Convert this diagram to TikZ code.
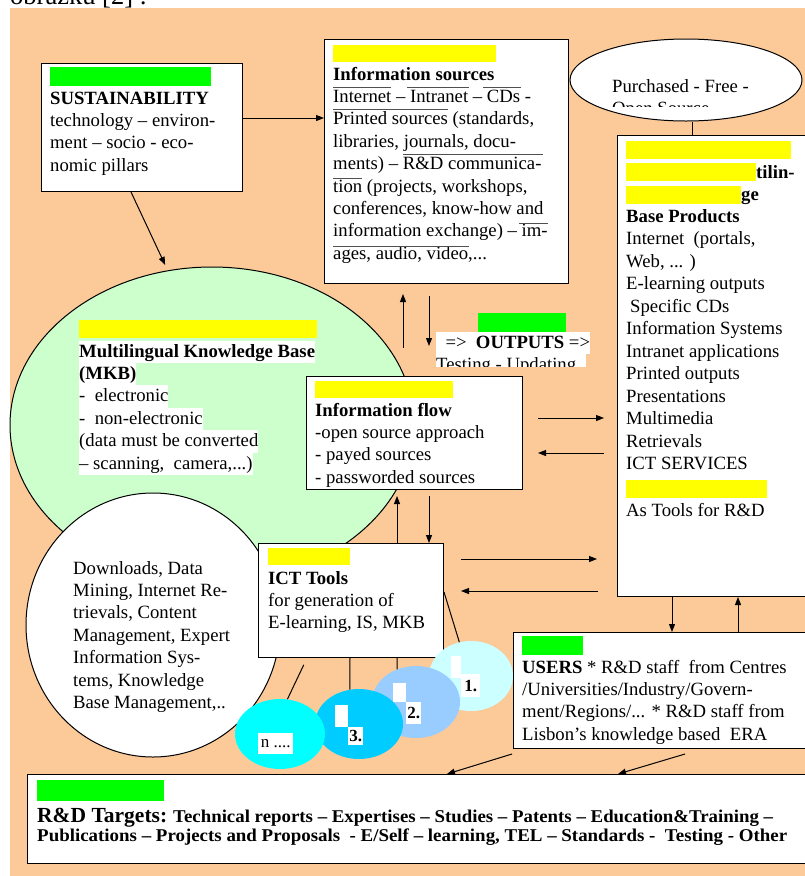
\documentclass[tikz,border=0pt]{standalone}
\usepackage{fontspec}
\usepackage{graphicx}
\setmainfont{Liberation Serif}
\usetikzlibrary{arrows.meta,shapes.geometric}
\definecolor{peach}{RGB}{252,202,153}
\definecolor{mkbgreen}{RGB}{204,255,204}
\definecolor{baryellow}{RGB}{255,255,0}
\definecolor{bargreen}{RGB}{0,255,0}
\definecolor{blobA}{RGB}{204,255,255}
\definecolor{blobB}{RGB}{153,204,255}
\definecolor{blobC}{RGB}{0,204,255}
\definecolor{blobN}{RGB}{0,255,255}
\definecolor{ovlgray}{RGB}{80,80,80}
\newcommand\hlw[1]{{\setlength\fboxsep{0pt}\colorbox{white}{\rule[-6pt]{0pt}{22.4pt}#1}}}
\tikzset{
  box/.style={draw, fill=white, line width=1pt, anchor=north west, inner sep=0pt},
  txt/.style={anchor=base west, inner sep=0pt, align=left, font=\fontsize{18.7}{22.4}\selectfont},
  blob/.style={ellipse, draw=none, fill=#1, inner sep=0pt},
  numbox/.style={fill=white, anchor=north west, inner sep=0pt, font=\fontsize{17}{17}\selectfont},
  arr/.style={-{Triangle[length=8pt,width=6pt]}, line width=1pt},
  ovl/.style={draw=ovlgray, line width=1pt},
}
\begin{document}
\begin{tikzpicture}[x=1pt,y=-1pt]
    \useasboundingbox (0,0) rectangle (805,876);
    \node[txt, font=\fontsize{26.5}{30}\selectfont] (caption) at (10,4) {obrázku [2] :};
    \fill [peach] (10,8) rectangle (805,876);

    % big ellipses
    \node[ellipse, draw, line width=1pt, fill=mkbgreen, inner sep=0pt, minimum width=404pt, minimum height=316pt] (mkb) at (212,425) {};
    \node[ellipse, draw, line width=1pt, fill=white, inner sep=0pt, minimum width=254pt, minimum height=264pt] (dl) at (153,625) {};
    \node[ellipse, draw, line width=1pt, fill=white, inner sep=0pt, minimum width=232pt, minimum height=82pt] (purch) at (686,80) {};

    % boxes
    \node[box, minimum width=201pt, minimum height=128pt] (sust) at (41,63) {};
    \node[box, minimum width=244pt, minimum height=244pt] (src) at (324,39) {};
    \node[box, minimum width=195pt, minimum height=461pt] (prod) at (617,135) {};
    \node[box, minimum width=216pt, minimum height=113pt] (flow) at (306,376) {};
    \node[box, minimum width=185pt, minimum height=114pt] (ict) at (258,543) {};
    \node[box, minimum width=299pt, minimum height=116pt] (users) at (513,632) {};
    \node[box, minimum width=785pt, minimum height=89pt] (targets) at (27,774) {};

    % colour bars
    \fill [bargreen] (50,67) rectangle (211,86);
    \fill [baryellow] (333,45) rectangle (496,62);
    \fill [baryellow] (626,141) rectangle (791,159);
    \fill [baryellow] (626,163) rectangle (756,181);
    \fill [baryellow] (626,186) rectangle (741,204);
    \fill [baryellow] (626,480) rectangle (767,498);
    \fill [baryellow] (79,320) rectangle (317,338);
    \fill [baryellow] (315,381) rectangle (453,398);
    \fill [bargreen] (478,313) rectangle (566,332);
    \fill [baryellow] (268,548) rectangle (350,565);
    \fill [bargreen] (522,636) rectangle (583,655);
    \fill [bargreen] (37,780) rectangle (164,801);

    % texts (base = last line)
    \node[txt] (sust-t) at (50,171.2) {\textbf{SUSTAINABILITY}\\technology – environ-\\ment – socio - eco-\\nomic pillars};
    \node[txt] (src-t) at (333,259.2) {\textbf{Information sources}\\Internet – Intranet – CDs -\\Printed sources (standards,\\libraries, journals, docu-\\ments) – R\&D communica-\\tion (projects, workshops,\\conferences, know-how and\\information exchange) – im-\\ages, audio, video,...};
    \draw [ovl] (333,87) -- (391,87);
    \draw [ovl] (407,87) -- (469,87);
    \draw [ovl] (483,87) -- (521,87);
    \draw [ovl] (333,109) -- (448,109);
    \draw [ovl] (403,154) -- (543,154);
    \draw [ovl] (333,178) -- (362,178);
    \draw [ovl] (519,223) -- (548,223);
    \draw [ovl] (333,246) -- (469,246);
    \begin{scope}
        \clip (600,60) rectangle (800,106);
        \node[txt] (purch-t) at (612,114.4) {Purchased - Free -\\Open Source};
    \end{scope}
    \node[txt] (prod-a) at (756,178) {\textbf{tilin-}};
    \node[txt] (prod-b) at (741,200) {\textbf{ge}};
    \node[txt, font=\fontsize{18.7}{22.5}\selectfont] (prod-t) at (626,469.5) {\textbf{Base Products}\\Internet\ \ (portals,\\Web, ... )\\E-learning outputs\\\hspace{4pt}Specific CDs\\Information Systems\\Intranet applications\\Printed outputs\\Presentations\\Multimedia\\Retrievals\\ICT SERVICES};
    \node[txt] (prod-c) at (626,516) {As Tools for R\&D};
    \node[txt] (mkb-t) at (79,469) {\hlw{\textbf{Multilingual Knowledge Base}}\\\hlw{\textbf{(MKB)}}\\\hlw{-\ \ electronic}\\\hlw{-\ \ non-electronic}\\\hlw{(data must be converted}\\\hlw{– scanning,\ \ camera,...)}};
    \node[txt] (flow-t) at (315,483.2) {\textbf{Information flow}\\-open source approach\\- payed sources\\- passworded sources};
    \node[txt] (out-t) at (436,348) {\hlw{\ \ =>\ \ \textbf{OUTPUTS} =>}};
    \begin{scope}
        \clip (430,354) rectangle (600,366);
        \node[txt] (out-b) at (436,370) {\hlw{Testing - Updating\ \ }};
    \end{scope}
    \node[txt] (dl-t) at (73,708.4) {Downloads, Data\\Mining, Internet Re-\\trievals, Content\\Management, Expert\\Information Sys-\\tems, Knowledge\\Base Management,..};
    \node[txt] (ict-t) at (268,628.8) {\textbf{ICT Tools}\\for generation of\\E-learning, IS, MKB};
    \node[txt] (users-t) at (522,740.2) {\textbf{USERS} * R\&D staff\ \ from Centres\\/Universities/Industry/Govern-\\ment/Regions/... * R\&D staff from\\Lisbon’s knowledge based\ \ ERA};
    \node[txt, font=\fontsize{18}{19.5}\selectfont\bfseries] (targets-t) at (37,841.5) {{\fontsize{21.5}{19.5}\selectfont R\&D Targets:}\hspace{6pt}\resizebox{600pt}{\height}{Technical reports – Expertises – Studies – Patents – Education\&Training –}\\\resizebox{750pt}{\height}{Publications – Projects and Proposals\ \ - E/Self – learning, TEL – Standards -\ \ Testing - Other}};

    % bubbles
    \node[blob=blobA, minimum width=84pt, minimum height=70pt] (b1) at (471,676) {};
    \node[blob=blobB, minimum width=88pt, minimum height=72pt] (b2) at (416,702) {};
    \node[blob=blobC, minimum width=88pt, minimum height=70pt] (b3) at (359,724) {};
    \node[blob=blobN, minimum width=90pt, minimum height=70pt] (nb) at (280,734) {};
    \fill [white] (451,656) rectangle (461,678);
    \fill [white] (393,683) rectangle (406,702);
    \fill [white] (335,705) rectangle (348,727);
    \node[numbox, minimum width=19pt, minimum height=23pt] (n1) at (461,674) {\textbf{1.}};
    \node[numbox, minimum width=15pt, minimum height=22pt] (n2) at (406,702) {\textbf{2.}};
    \node[numbox, minimum width=15pt, minimum height=18pt] (n3) at (348,727) {\textbf{3.}};
    \node[numbox, minimum width=35pt, minimum height=21pt] (nn) at (258,733) {n ....};

    % connectors
    \draw [arr] (sust.east |- 0,118) -- (src.west |- 0,118);
    \draw [arr, shorten >=6pt] (sust.south -| 131,0) -- (mkb.106);
    \draw [arr, shorten <=28pt, shorten >=10pt] (flow.north -| 403,0) -- (src.south -| 403,0);
    \draw [arr, shorten <=12pt, shorten >=30pt] (src.south -| 429,0) -- (flow.north -| 429,0);
    \draw [arr, shorten <=15pt, shorten >=13pt] (flow.east |- 0,418) -- (prod.west |- 0,418);
    \draw [arr, shorten <=13pt, shorten >=15pt] (prod.west |- 0,453) -- (flow.east |- 0,453);
    \draw [arr, shorten >=6pt] (ict.north -| 397,0) -- (flow.south -| 397,0);
    \draw [arr, shorten <=6pt] (flow.south -| 429,0) -- (ict.north -| 429,0);
    \draw [arr, shorten <=17pt, shorten >=20pt] (ict.east |- 0,559) -- (prod.west |- 0,559);
    \draw [arr, shorten <=19pt, shorten >=17pt] (prod.west |- 0,591) -- (ict.east |- 0,591);
    \draw [arr] (prod.south -| 672,0) -- (users.north -| 672,0);
    \draw [arr] (users.north -| 738,0) -- (prod.south -| 738,0);
    \coordinate (usr-l) at (512,754);
    \coordinate (usr-r) at (685,754);
    \draw [arr] (usr-l) -- (targets.north -| 447,0);
    \draw [arr] (usr-r) -- (targets.north -| 618,0);
    \draw [line width=1pt] (purch.south -| 692,0) -- (prod.north -| 692,0);
    \draw [line width=1pt, shorten <=7.5pt] (ict.south -| 307,0) -- (nb.78);
    \draw [line width=1pt] (ict.south -| 350,0) -- (b3.105);
    \draw [line width=1pt] (ict.south -| 397,0) -- (b2.120);
    \draw [line width=1pt] (ict.east |- 0,592) -- (b1.109);
\end{tikzpicture}
\end{document}
